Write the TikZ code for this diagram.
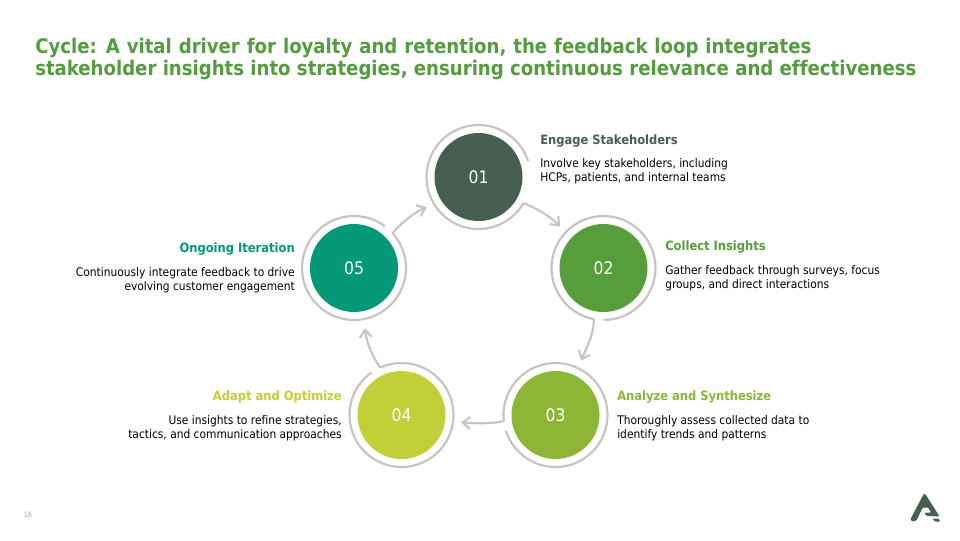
\documentclass[tikz,border=0pt]{standalone}
\usepackage{fontspec}
\setmainfont[Ligatures=NoCommon]{DejaVu Sans Condensed}
\usetikzlibrary{arrows.meta}
\definecolor{cA}{HTML}{475F51}
\definecolor{cB}{HTML}{559E3B}
\definecolor{cC}{HTML}{8DB636}
\definecolor{cD}{HTML}{C1CF38}
\definecolor{cE}{HTML}{039877}
\definecolor{ringc}{HTML}{C4C4C4}
\definecolor{titlec}{HTML}{559B3F}
\tikzset{x=0.75pt,y=-0.75pt,
 disc/.style={circle,minimum size=66pt,inner sep=0pt,text=white,font=\fontsize{13}{16}\selectfont},
 ringline/.style={draw=ringc,line width=1.6pt},
 flow/.style={draw=ringc,line width=1.6pt,-{Straight Barb[length=5.5pt,width=9pt,line width=1.6pt]}},
 head/.style={inner sep=0pt,font=\fontsize{9.6}{11}\selectfont\bfseries},
 body/.style={inner sep=0pt,font=\fontsize{8.9}{10.5}\selectfont,text=black,align=left},
 bodyr/.style={body,align=right}}
\begin{document}
\begin{tikzpicture}
\useasboundingbox (0,0) rectangle (960,540);
\fill[white] (0,0) rectangle (960,540);
\node[anchor=north west,inner sep=0pt,text=titlec,font=\fontsize{15.1}{16.5}\selectfont\bfseries,align=left] (title) at (35,37.5) {{\spaceskip=5.2pt Cycle: A vital driver for loyalty and retention, the feedback loop integrates}\\stakeholder insights into strategies, ensuring continuous relevance and effectiveness};
\node[disc,fill=cA] (n1) at (478.5,177) {01};
\node[disc,fill=cB] (n2) at (603.5,268) {02};
\node[disc,fill=cC] (n3) at (555.5,415) {03};
\node[disc,fill=cD] (n4) at (401.5,415) {04};
\node[disc,fill=cE] (n5) at (354,268) {05};
% rings
\draw[ringline] ([shift={(30:52)}]n1.center) arc[start angle=30,end angle=342.4,radius=52];
\draw[ringline] ([shift={(100.7:52)}]n2.center) arc[start angle=100.7,end angle=450,radius=52];
\draw[ringline] ([shift={(173.3:52)}]n3.center) arc[start angle=173.3,end angle=522.4,radius=52];
\draw[ringline] ([shift={(246:52)}]n4.center) arc[start angle=246,end angle=594.8,radius=52];
\draw[ringline] ([shift={(318:52)}]n5.center) arc[start angle=318,end angle=666.4,radius=52];
% connector ends
\coordinate (t1) at ([shift={(30:52)}]n1.center);
\coordinate (t2) at ([shift={(100.7:52)}]n2.center);
\coordinate (t3) at ([shift={(173.3:52)}]n3.center);
\coordinate (t4) at ([shift={(246:52)}]n4.center);
\coordinate (t5) at ([shift={(318:52)}]n5.center);
\coordinate (h2) at ([shift={(-43.5,-41.3)}]n2.center);
\coordinate (h3) at ([shift={(25.5,-54.3)}]n3.center);
\coordinate (h4) at ([shift={(59.5,7.3)}]n4.center);
\coordinate (h5) at ([shift={(11,60.3)}]n5.center);
\coordinate (h1) at ([shift={(-51.8,30.3)}]n1.center);
\draw[flow] (t1) .. controls +(12,5) and +(-10,-11) .. (h2);
\draw[flow] (t2) .. controls +(0,15) and +(6,-14) .. (h3);
\draw[flow] (t3) .. controls +(-12,3) and +(14,1) .. (h4);
\draw[flow] (t4) .. controls +(-8,-10) and +(1,12) .. (h5);
\draw[flow] (t5) .. controls +(9,-11) and +(-12,5) .. (h1);
% labels
\node[head,anchor=west,text=cA] (l1) at (540,141) {Engage Stakeholders};
\node[body,anchor=west] (b1) at (540,171) {Involve key stakeholders, including\\HCPs, patients, and internal teams};
\node[head,anchor=west,text=cB] (l2) at (665,247) {Collect Insights};
\node[body,anchor=west] (b2) at (665,278) {Gather feedback through surveys, focus\\groups, and direct interactions};
\node[head,anchor=west,text=cC] (l3) at (617,397) {Analyze and Synthesize};
\node[body,anchor=west] (b3) at (617,428) {Thoroughly assess collected data to\\identify trends and patterns};
\node[head,anchor=east,text=cD] (l4) at (342,397) {Adapt and Optimize};
\node[bodyr,anchor=east] (b4) at (342,428) {Use insights to refine strategies,\\tactics, and communication approaches};
\node[head,anchor=east,text=cE] (l5) at (295,249) {Ongoing Iteration};
\node[bodyr,anchor=east] (b5) at (295,280) {Continuously integrate feedback to drive\\evolving customer engagement};
\node[inner sep=0pt,anchor=west,text=black!35,font=\fontsize{5.5}{6}\selectfont] (pg) at (23.5,515) {16};
% logo
\fill[cA,rounded corners=0.6pt] (923.7,494) -- (925.3,494) -- (939.5,516.5) -- (928,516) -- (925,514.5) -- (925,512.5) -- (931,512.5) -- (928,507.5) -- (923,507.5) -- (921,511) -- (916.5,520.5) -- (912,521.5) -- (910.5,519) -- cycle;
\fill[cA,rounded corners=0.5pt] (932.5,518.5) -- (938.5,518.5) -- (940,521.5) -- (935,521.5) -- cycle;
\end{tikzpicture}
\end{document}
